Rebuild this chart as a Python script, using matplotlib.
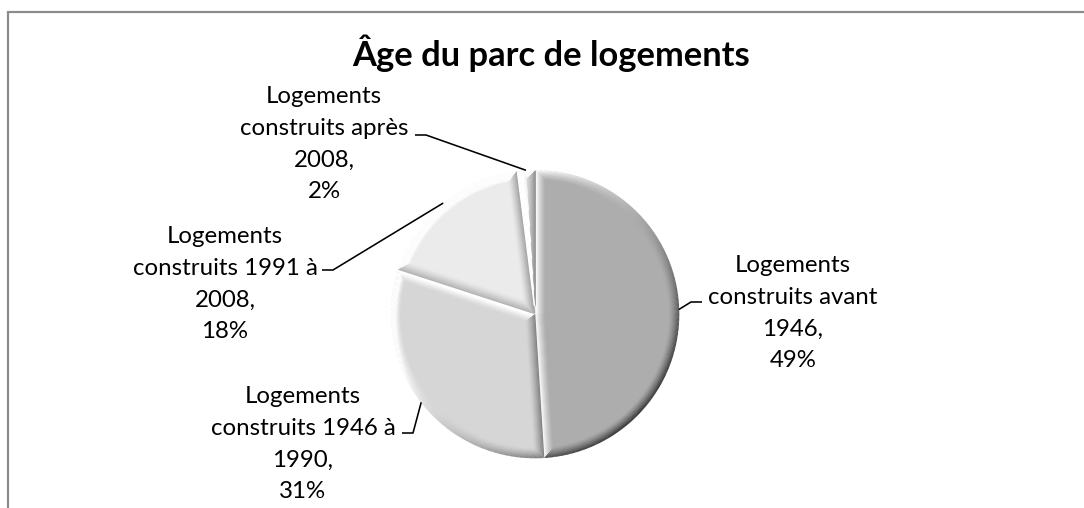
import numpy as np
import matplotlib
matplotlib.use("Agg")
import matplotlib.pyplot as plt
from matplotlib.collections import LineCollection
from matplotlib.patches import Rectangle

# --- data ---
title = "Âge du parc de logements"
categories = ["Logements\nconstruits avant\n1946",
              "Logements\nconstruits 1946 à\n1990",
              "Logements\nconstruits 1991 à\n2008",
              "Logements\nconstruits après\n2008"]
shares = [49, 31, 18, 2]
slice_colors = ["#adadad", "#d6d6d6", "#ebebeb", "#e3e3e3"]

# --- layout (pixels, measured from top-left) ---
W, H = 1084, 508
pie_center = (535, 314)
pie_radius = 144
label_pos = [(793, 313), (303, 444), (225, 284), (324, 144)]
leader_start = [(702, 302), (402, 433), (322, 270), (415, 135)]
FONT = "Lato"


def px(v):
    # pixel size -> points at dpi 100
    return v * 0.72


def shade(base, phi, f, amp=0.48, light=np.radians(135)):
    v = base + amp * np.cos(phi - light) * f
    v = min(max(v, 0.0), 1.0)
    return (v, v, v)


def bevel(ax, w, base, width=11):
    # fake the embossed edge of each slice with thin nested outlines
    cx, cy = w.center
    r = w.r
    a1, a2 = np.radians(w.theta1), np.radians(w.theta2)
    h = (a2 - a1) / 2
    b = (a1 + a2) / 2
    segs, cols = [], []
    for k in range(width):
        d = k + 0.5
        R = r - d
        delta = np.arcsin(d / R)
        if a1 + delta >= a2 - delta:
            break
        if d / np.tan(h) >= np.sqrt(R * R - d * d):
            break
        f = (1 - k / (width - 1)) ** 1.3
        apex = (cx + d / np.sin(h) * np.cos(b), cy + d / np.sin(h) * np.sin(b))
        th = np.linspace(a1 + delta, a2 - delta, max(int(np.degrees(a2 - a1) * 2), 4))
        pts = np.column_stack([cx + R * np.cos(th), cy + R * np.sin(th)])
        for i in range(len(th) - 1):
            segs.append([pts[i], pts[i + 1]])
            cols.append(shade(base, (th[i] + th[i + 1]) / 2, f))
        segs.append([apex, pts[0]])
        cols.append(shade(base, a1 - np.pi / 2, f))
        segs.append([apex, pts[-1]])
        cols.append(shade(base, a2 + np.pi / 2, f))
    ax.add_collection(LineCollection(segs, colors=cols, linewidths=px(1.6),
                                     capstyle="butt"))


fig = plt.figure(figsize=(W / 100, H / 100), dpi=100)
ax = fig.add_axes([0, 0, 1, 1])

wedges, _ = ax.pie(shares, colors=slice_colors, startangle=90, counterclock=False,
                   center=(pie_center[0], H - pie_center[1]), radius=pie_radius,
                   wedgeprops=dict(linewidth=0))
ax.set_xlim(0, W)
ax.set_ylim(0, H)
ax.set_aspect("equal")
ax.axis("off")

for w, c in zip(wedges, slice_colors):
    bevel(ax, w, matplotlib.colors.to_rgb(c)[0])

# chart frame (runs past the right and bottom edge of the picture)
ax.add_patch(Rectangle((8, -20), W + 40, H - 12 + 20, fill=False,
                       edgecolor="#8c8c8c", linewidth=px(2.2), clip_on=True))

ax.text(551, H - 53, title, ha="center", va="center", fontsize=px(34.5),
        fontweight="bold", family=FONT, color="black")

for w, name, v, (lx, ly), (sx, sy) in zip(wedges, categories, shares,
                                           label_pos, leader_start):
    ax.text(lx, H - ly, f"{name},\n{v}%", ha="center", va="center",
            fontsize=px(24), family=FONT, linespacing=1.63, color="black")
    mid = np.radians((w.theta1 + w.theta2) / 2)
    wx = w.center[0] + w.r * np.cos(mid)
    wy = w.center[1] + w.r * np.sin(mid)
    ex = sx + (11 if wx > sx else -11)
    ax.plot([sx, ex, wx], [H - sy, H - sy, wy], color="black",
            linewidth=px(1.6), solid_capstyle="butt")

fig.savefig("out.png", dpi=100)
